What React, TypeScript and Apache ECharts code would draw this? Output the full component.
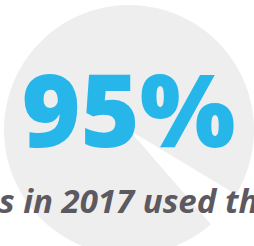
import React, { useEffect, useRef } from "react";
import * as echarts from "echarts";

const sliceNames = ["Other", "Used"];
const sliceValues = [5, 95];
const sliceColors = ["#ffffff", "#eeeeee"];
const headline = "95%";
const subline = "s in 2017 used th";

export default function App() {
  const ref = useRef<HTMLDivElement>(null);
  useEffect(() => {
    document.body.style.margin = "0";
    const chart = echarts.init(ref.current!, null, { renderer: "svg" });
    chart.setOption({
      animation: false,
      backgroundColor: "#ffffff",
      series: [
        {
          type: "pie",
          z: 1,
          center: [129, 130],
          radius: 125,
          startAngle: -31,
          clockwise: true,
          silent: true,
          label: { show: false },
          labelLine: { show: false },
          itemStyle: { borderWidth: 0 },
          emphasis: { disabled: true },
          data: sliceNames.map((n, i) => ({
            name: n,
            value: sliceValues[i],
            itemStyle: { color: sliceColors[i] },
          })),
        },
      ],
      graphic: {
        elements: [
          {
            type: "text",
            z: 100,
            x: 128.5,
            y: 108,
            style: {
              text: headline,
              fill: "#27b6e9",
              font: "800 101px 'Open Sans'",
              textAlign: "center",
              textVerticalAlign: "middle",
            },
          },
          {
            type: "text",
            z: 100,
            x: -1,
            y: 200,
            style: {
              text: subline,
              fill: "#5d5961",
              font: "italic bold 33px 'Open Sans'",
              textAlign: "left",
              textVerticalAlign: "middle",
            },
          },
        ],
      },
    });
    return () => chart.dispose();
  }, []);
  return <div ref={ref} style={{ width: 254, height: 246 }} />;
}
